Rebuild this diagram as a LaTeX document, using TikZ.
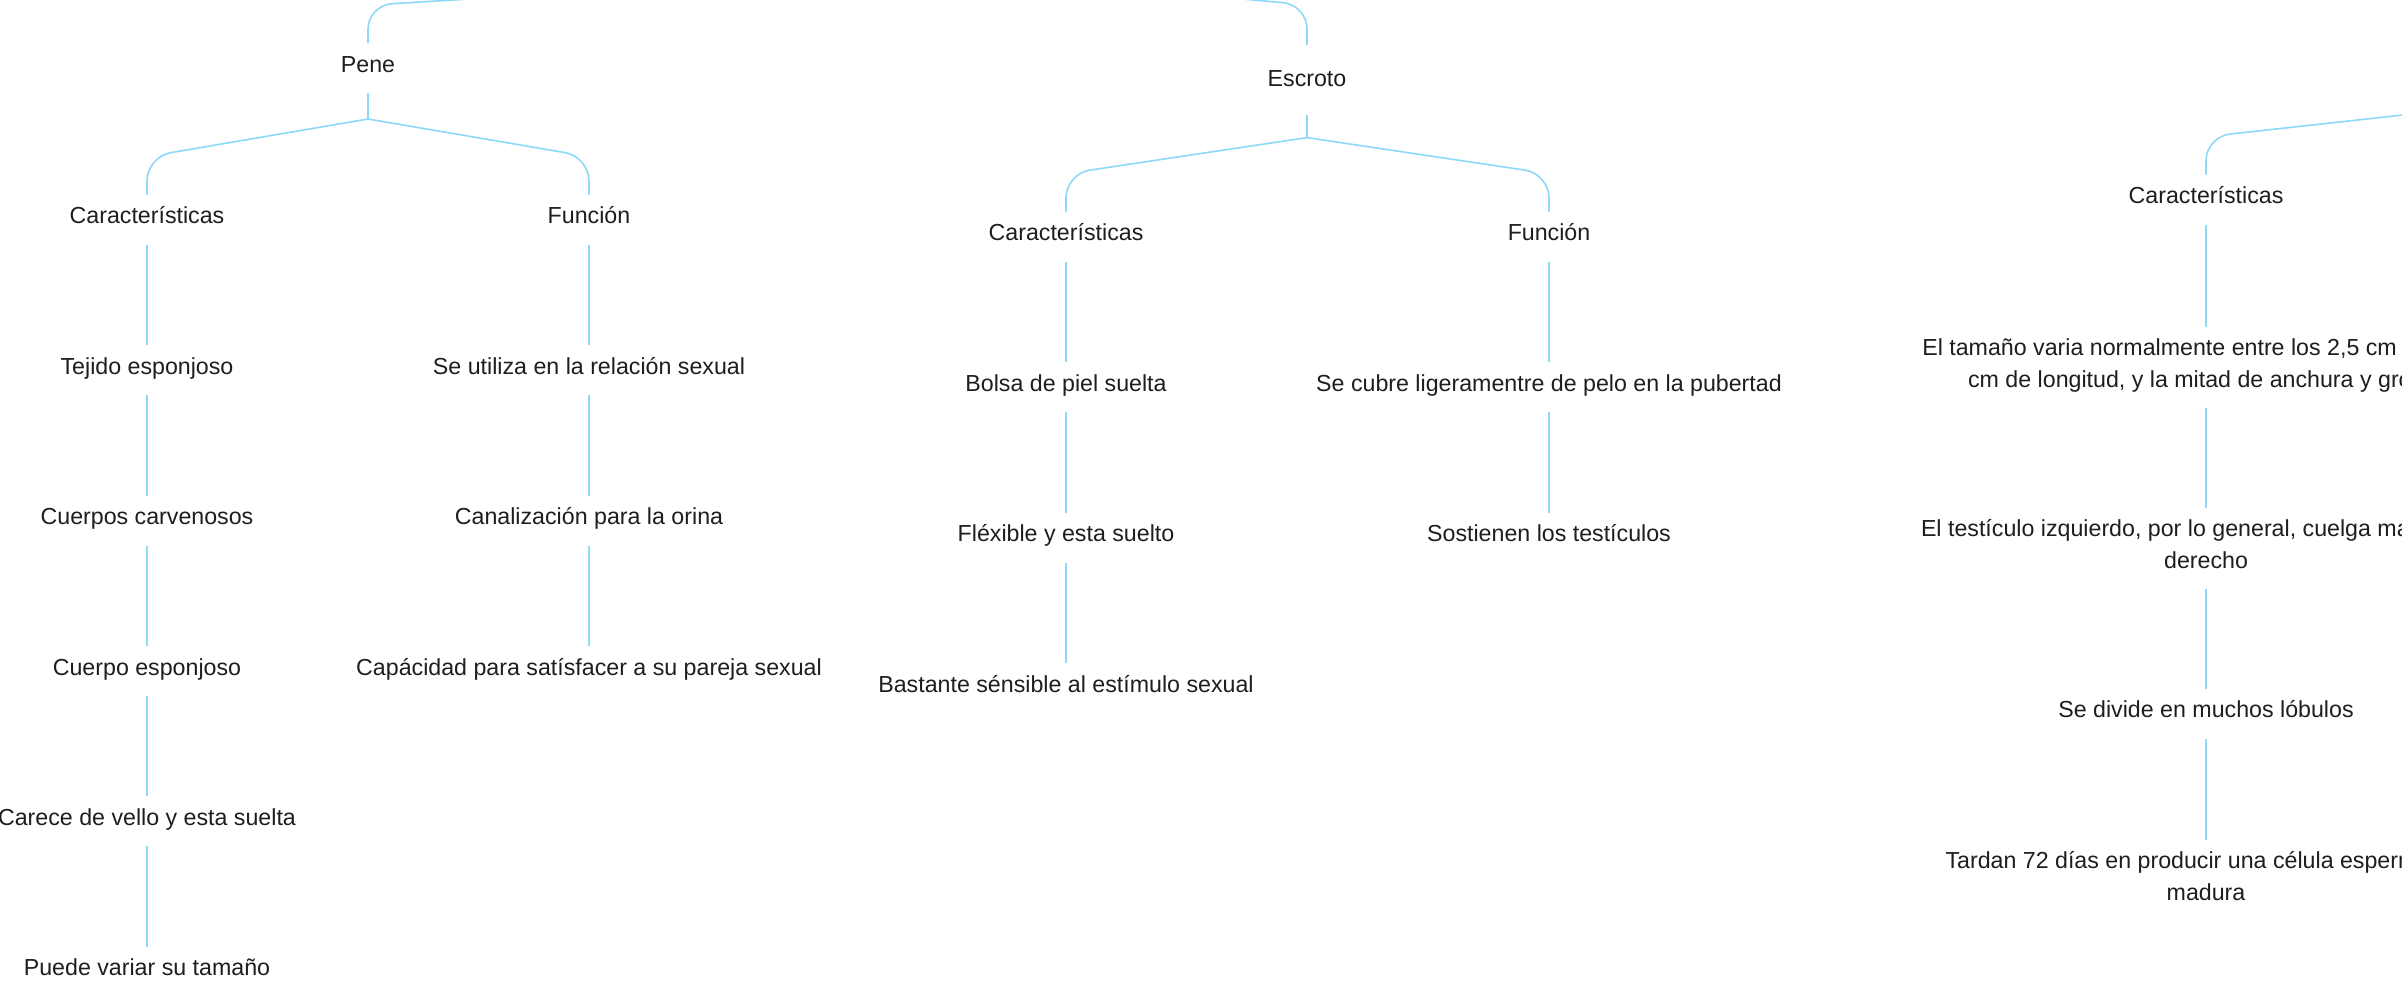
\documentclass[tikz,border=0pt]{standalone}
\usepackage{fontspec}
\setmainfont{Liberation Sans}
\usetikzlibrary{calc}
\definecolor{conncol}{HTML}{8ED8F8}
\definecolor{txtcol}{HTML}{1E1E1E}
\begin{document}
\begin{tikzpicture}[x=0.5pt,y=-0.5pt,
  lbl/.style={font=\fontsize{11.6}{15.75}\selectfont, text=txtcol, inner sep=0pt, anchor=base, text height=14.2pt, text depth=10.3pt},
  lbltwo/.style={lbl, text depth=26.05pt},
  conn/.style={draw=conncol, line width=0.8pt},
  branch/.style={conn, rounded corners=12pt}]
\useasboundingbox (0,0) rectangle (2402,982);
\fill[white] (0,0) rectangle (2402,982);
\clip (0,0) rectangle (2402,982);

% ---------- Pene ----------
\node[lbl] (pene) at (368,72) {Pene};
\node[lbl] (pcar) at (147,223.5) {Características};
\node[lbl] (pfun) at (589,223.5) {Función};
\node[lbl] (p1) at (147,374) {Tejido esponjoso};
\node[lbl] (p2) at (147,524.5) {Cuerpos carvenosos};
\node[lbl] (p3) at (147,675) {Cuerpo esponjoso};
\node[lbl] (p4) at (147,825) {Carece de vello y esta suelta};
\node[lbl] (p5) at (147,975.5) {Puede variar su tamaño};
\node[lbl] (f1) at (589,374) {Se utiliza en la relación sexual};
\node[lbl] (f2) at (589,524.5) {Canalización para la orina};
\node[lbl] (f3) at (589,675) {Capácidad para satísfacer a su pareja sexual};

% ---------- Escroto ----------
\node[lbl, text height=20.65pt, text depth=13.85pt] (escroto) at (1307,86.5) {Escroto};
\node[lbl] (ecar) at (1066,240.5) {Características};
\node[lbl] (efun) at (1549,240.5) {Función};
\node[lbl] (e1) at (1066,391) {Bolsa de piel suelta};
\node[lbl] (e2) at (1066,541.5) {Fléxible y esta suelto};
\node[lbl] (e3) at (1066,692) {Bastante sénsible al estímulo sexual};
\node[lbl] (g1) at (1549,391) {Se cubre ligeramentre de pelo en la pubertad};
\node[lbl] (g2) at (1549,541.5) {Sostienen los testículos};

% ---------- third branch ----------
\node[lbl] (tcar) at (2206,203.5) {Características};
\node[lbltwo] (t1) at (2206,355.5) {\begin{tabular}[t]{@{}c@{}}El tamaño varia normalmente entre los 2,5 cm y los 3,5\\cm de longitud, y la mitad de anchura y grosor\end{tabular}};
\node[lbltwo] (t2) at (2206,536.5) {\begin{tabular}[t]{@{}c@{}}El testículo izquierdo, por lo general, cuelga mas que el\\derecho\end{tabular}};
\node[lbl] (t3) at (2206,717.5) {Se divide en muchos lóbulos};
\node[lbltwo] (t4) at (2206,868.5) {\begin{tabular}[t]{@{}c@{}}Tardan 72 días en producir una célula espermática\\madura\end{tabular}};

% ---------- connectors ----------
\coordinate (root) at (929,-29);
\coordinate (tj) at (2530,101);
\draw[branch] (root) -- ($(pene.north)+(0,-38)$) -- (pene.north);
\draw[branch] (root) -- ($(escroto.north)+(0,-40)$) -- (escroto.north);
\draw[branch] (tj) -- ($(tcar.north)+(0,-38)$) -- (tcar.north);

\path (pene.south) ++(0,26) coordinate (pj);
\draw[conn] (pene.south) -- (pj);
\draw[branch] (pj) -- ($(pcar.north)+(0,-38)$) -- (pcar.north);
\draw[branch] (pj) -- ($(pfun.north)+(0,-38)$) -- (pfun.north);

\path (escroto.south) ++(0,23) coordinate (ej);
\draw[conn] (escroto.south) -- (ej);
\draw[branch] (ej) -- ($(ecar.north)+(0,-38)$) -- (ecar.north);
\draw[branch] (ej) -- ($(efun.north)+(0,-38)$) -- (efun.north);

\draw[conn] (pcar.south) -- (p1.north);
\draw[conn] (p1.south) -- (p2.north);
\draw[conn] (p2.south) -- (p3.north);
\draw[conn] (p3.south) -- (p4.north);
\draw[conn] (p4.south) -- (p5.north);
\draw[conn] (pfun.south) -- (f1.north);
\draw[conn] (f1.south) -- (f2.north);
\draw[conn] (f2.south) -- (f3.north);

\draw[conn] (ecar.south) -- (e1.north);
\draw[conn] (e1.south) -- (e2.north);
\draw[conn] (e2.south) -- (e3.north);
\draw[conn] (efun.south) -- (g1.north);
\draw[conn] (g1.south) -- (g2.north);

\draw[conn] (tcar.south) -- (t1.north);
\draw[conn] (t1.south) -- (t2.north);
\draw[conn] (t2.south) -- (t3.north);
\draw[conn] (t3.south) -- (t4.north);
\end{tikzpicture}
\end{document}
